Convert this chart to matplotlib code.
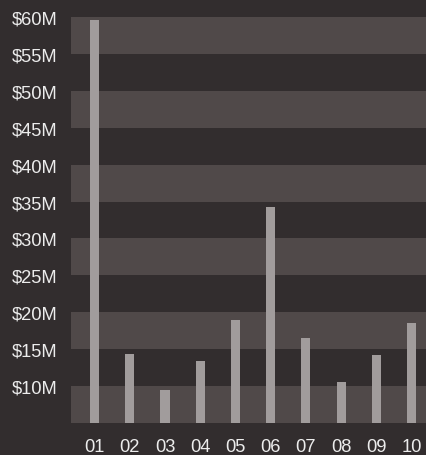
import matplotlib.pyplot as plt
import numpy as np

# data
categories = ['01', '02', '03', '04', '05', '06', '07', '08', '09', '10']
values = [59.6, 14.4, 9.5, 13.4, 19.0, 34.2, 16.5, 10.5, 14.2, 18.6]  # $M
y_ticks = [10, 15, 20, 25, 30, 35, 40, 45, 50, 55, 60]

BG = '#322d2e'
BAND = '#504949'
BAR = '#a19c9c'
TEXT = '#ececec'

plt.rcParams['font.family'] = ['Liberation Sans', 'DejaVu Sans']

fig = plt.figure(figsize=(4.27, 4.56), dpi=100, facecolor=BG)
W, H = 427, 456
ax = fig.add_axes([71 / W, (H - 424) / H, (427 - 71) / W, (424 - 18) / H])
ax.set_facecolor(BG)

# alternating bands
for lo in range(5, 60, 10):
    ax.axhspan(lo, lo + 5, color=BAND, lw=0, zorder=0)

x = np.arange(len(categories))
ax.bar(x, np.array(values) - 5, bottom=5, width=0.26, color=BAR, zorder=2)

ax.set_ylim(5, 60)
ax.set_xlim(-0.67, 9.44)
ax.set_yticks(y_ticks)
ax.set_yticklabels([f'${v}M' for v in y_ticks])
ax.set_xticks(x)
ax.set_xticklabels(categories)
ax.tick_params(axis='both', length=0, colors=TEXT, labelsize=13.2)
ax.tick_params(axis='x', pad=11)
ax.tick_params(axis='y', pad=9.5)
for s in ax.spines.values():
    s.set_visible(False)

fig.savefig('out.png', dpi=100, facecolor=BG)
